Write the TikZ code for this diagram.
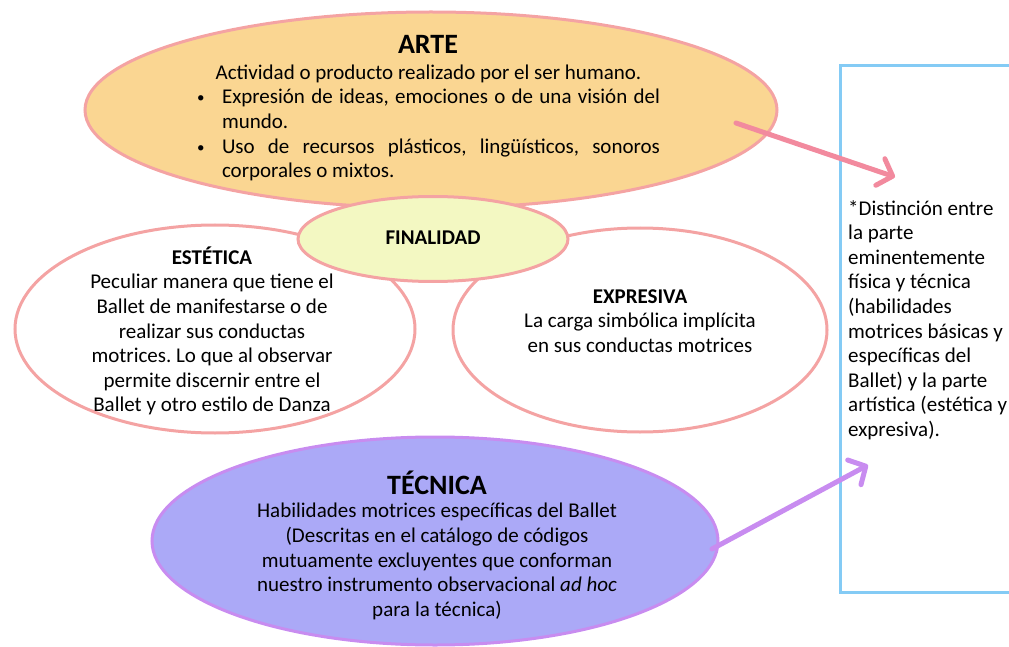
\documentclass[tikz,border=0pt]{standalone}
\usepackage{fontspec}
\setmainfont{Carlito}
\usepackage{tikz}
\usetikzlibrary{positioning,shapes.geometric,arrows.meta}
\frenchspacing

\definecolor{artefill}{HTML}{FAD692}
\definecolor{rosa}{HTML}{F4A3A3}
\definecolor{finfill}{HTML}{F3F8C2}
\definecolor{tecfill}{HTML}{ABA9F7}
\definecolor{violeta}{HTML}{C88CF0}
\definecolor{celeste}{HTML}{84CBF5}
\definecolor{flecha}{HTML}{F28A9E}

\newcommand{\vineta}{\makebox[25pt][l]{\raisebox{1pt}{\fontsize{15}{15}\selectfont\textbullet}}}

\begin{document}
\begin{tikzpicture}[x=1pt, y=-1pt,
			bubble/.style={ellipse, draw=rosa, line width=3pt, inner sep=0pt},
			txt/.style={font=\fontsize{21}{24.6}\selectfont, align=center, inner sep=0pt},
			bigtitle/.style={font=\fontsize{28}{30}\selectfont\bfseries, inner sep=0pt},
			arrowline/.style={line width=5pt, line cap=round, -{Straight Barb[length=13pt, width=28pt, round]}},
		]
		\useasboundingbox (0,0) rectangle (1009,647);
		
			%Nodes
			\node[bubble, fill=white, minimum width=400pt, minimum height=208pt]	(est)	at (215,329)	{};
			\node[bubble, fill=white, minimum width=374pt, minimum height=204pt]	(exp)	at (640,330)	{};
			\node[bubble, fill=artefill, minimum width=692pt, minimum height=196pt]	(arte)	at (431,110)	{};
			\node[bubble, fill=finfill, minimum width=270pt, minimum height=85pt]	(fin)	at (433,239)	{};
			\node[bubble, draw=violeta, fill=tecfill, minimum width=566pt, minimum height=208pt]	(tec)	at (435,541)	{};
			\draw[celeste, line width=3pt] (840,66) rectangle (1030,592);
			
			\node[bigtitle]	(artetit)	at (428,44)	{ARTE};
			\node[txt, text width=463pt, align=justify]	(artetxt)	at (428.5,123)	{%
				\hyphenpenalty=10000\exhyphenpenalty=10000
				{\centering Actividad o producto realizado por el ser humano.\par}
				\hangindent=25pt\hangafter=1\noindent\vineta Expresión de ideas, emociones o de una visión del mundo.\par
				\hangindent=25pt\hangafter=1\noindent\vineta Uso de recursos plásticos, lingüísticos, sonoros corporales o mixtos.\par};
			\node[txt, font=\fontsize{21}{24.6}\selectfont\bfseries]	(fintit)	at (433,238)	{FINALIDAD};
			\node[txt]	(esttxt)	at (212,331)	{\textbf{ESTÉTICA}\\Peculiar manera que tiene el\\Ballet de manifestarse o de\\realizar sus conductas\\motrices. Lo que al observar\\permite discernir entre el\\Ballet y otro estilo de Danza};
			\node[txt]	(exptxt)	at (640,321)	{\textbf{EXPRESIVA}\\La carga simbólica implícita\\en sus conductas motrices};
			\node[bigtitle]	(tectit)	at (437,483)	{TÉCNICA};
			\node[txt]	(tectxt)	at (437,561.5)	{Habilidades motrices específicas del Ballet\\(Descritas en el catálogo de códigos\\mutuamente excluyentes que conforman\\nuestro instrumento observacional \textit{ad hoc}\\para la técnica)};
			\node[txt, align=left, anchor=west]	(boxtxt)	at (848,320)	{*Distinción entre\\la parte\\eminentemente\\física y técnica\\(habilidades\\motrices básicas y\\específicas del\\Ballet) y la parte\\artística (estética y\\expresiva).};
			
			\coordinate (a1) at (736,123);
			\coordinate (a2) at (895,177);
			\coordinate (t1) at (712,549);
			\coordinate (t2) at (868,465);
		
			%Lines
			\draw[arrowline, flecha]	(a1) -- (a2);
			\draw[arrowline, violeta]	(t1) -- (t2);
		
		\end{tikzpicture}
\end{document}
